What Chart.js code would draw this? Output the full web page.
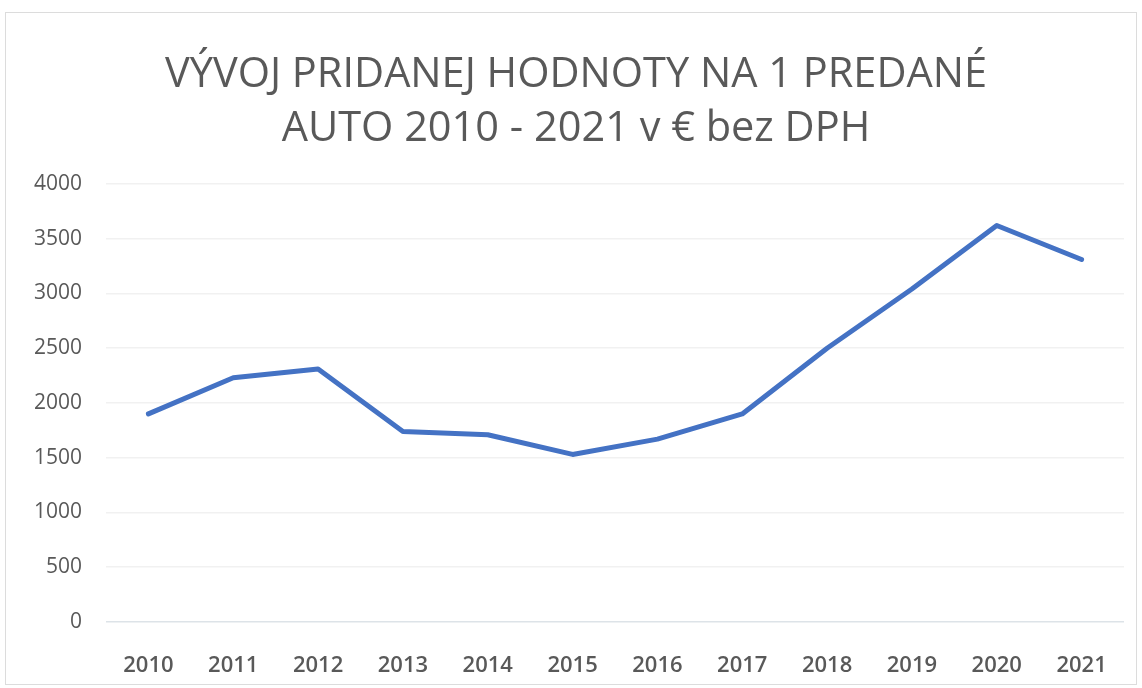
<!DOCTYPE html>
<html>
<head>
  <style>
    html, body {
        margin: 0;
        padding: 0;
        background: #fff;
    }

    #container {
        position: relative;
        width: 1142px;
        height: 688px;
    }

    #frame {
        position: absolute;
        left: 5px;
        top: 12px;
        width: 1132px;
        height: 673px;
        border: 1px solid #dcdcdc;
        box-sizing: border-box;
        pointer-events: none;
    }
  </style>
</head>
<body>
  <div id="container">
    <canvas id="chart" width="1142" height="688"></canvas>
    <div id="frame"></div>
  </div>

  <script src="https://cdn.jsdelivr.net/npm/chart.js"></script>
  <script>
    const years = ["2010", "2011", "2012", "2013", "2014", "2015", "2016", "2017", "2018", "2019", "2020", "2021"];
    const addedValue = [1900, 2230, 2310, 1740, 1710, 1530, 1670, 1900, 2500, 3040, 3620, 3310];
    const titleLines = ["VÝVOJ PRIDANEJ HODNOTY NA 1 PREDANÉ", "AUTO 2010 - 2021 v € bez DPH"];

    const textColor = "#595959";

    const ctx = document.getElementById("chart").getContext("2d");
    const chart = new Chart(ctx, {
        type: "line",
        data: {
            labels: years,
            datasets: [{
                label: "Pridaná hodnota",
                data: addedValue,
                borderColor: "#4472C4",
                borderWidth: 5,
                borderJoinStyle: "round",
                borderCapStyle: "round",
                pointRadius: 0,
                tension: 0,
                fill: false
            }]
        },
        options: {
            responsive: false,
            animation: false,
            layout: {
                padding: { left: 28, right: 18, top: 0, bottom: 10 }
            },
            scales: {
                x: {
                    offset: true,
                    grid: { display: false },
                    border: { display: false },
                    ticks: {
                        color: textColor,
                        padding: 23,
                        font: { family: "Open Sans", size: 22, weight: "600" }
                    },
                    afterFit: (s) => { s.height = 56; }
                },
                y: {
                    min: 0,
                    max: 4000,
                    border: { display: false },
                    grid: {
                        drawTicks: false,
                        color: (c) => c.tick && c.tick.value === 0 ? "#dde3e8" : "#f1f1f1",
                        lineWidth: 1.5
                    },
                    ticks: {
                        stepSize: 500,
                        color: textColor,
                        padding: 24,
                        font: { family: "Open Sans", size: 21 },
                        callback: (v) => String(v)
                    },
                    // plot's left edge at ~106px like the reference
                    afterFit: (s) => { s.width = 78; }
                }
            },
            plugins: {
                legend: { display: false },
                tooltip: { enabled: false },
                title: {
                    display: true,
                    text: titleLines,
                    color: textColor,
                    font: { family: "Open Sans", size: 41.5, weight: "400", lineHeight: 1.3 },
                    padding: { top: 48, bottom: 28 }
                }
            }
        }
    });
  </script>
</body>
</html>
